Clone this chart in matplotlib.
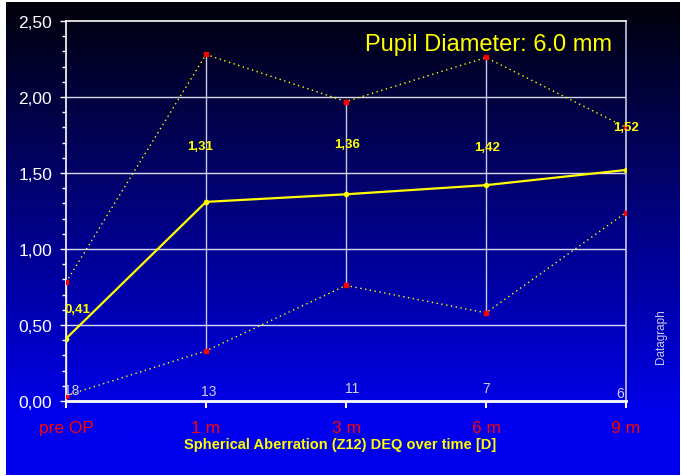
import numpy as np
import matplotlib
matplotlib.use("Agg")
import matplotlib.pyplot as plt
from matplotlib.ticker import MultipleLocator, FuncFormatter

plt.rcParams["font.family"] = ["Liberation Sans", "DejaVu Sans"]

# data
labels = ["pre OP", "1 m", "3 m", "6 m", "9 m"]
mean = [0.41, 1.31, 1.36, 1.42, 1.52]
upper = [0.78, 2.28, 1.97, 2.26, 1.80]
lower = [0.035, 0.33, 0.76, 0.58, 1.24]
counts = [18, 13, 11, 7, 6]

# label placement (data y, pixel x-offset)
value_label_y = [0.605, 1.678, 1.69, 1.67, 1.80]
value_label_dx = [11, -6, 1, 1, 0]
count_label_y = [0.072, 0.066, 0.086, 0.086, 0.053]
count_label_dx = [6, 3, 6, 0, -6]

W, H = 682, 477
fig = plt.figure(figsize=(W / 100, H / 100), dpi=100)
fig.patch.set_facecolor("white")

# gradient background
bg = fig.add_axes([6 / W, 1 / H, 674 / W, 473 / H])
bg.set_axis_off()
t = np.clip(np.linspace(0, 1, 400) / 0.88, 0, 1)
grad = np.zeros((400, 1, 3))
grad[:, 0, 2] = (10 + (238 - 10) * t) / 255
grad[:, 0, 0] = 2 / 255 * (1 - t)
grad[:, 0, 1] = 2 / 255 * (1 - t)
bg.imshow(grad, aspect="auto", extent=[0, 1, 0, 1])

ax = fig.add_axes([66 / W, 75 / H, 560 / W, 380 / H])
ax.set_facecolor("none")
x = np.arange(len(labels))

ax.set_xlim(0, 4)
ax.set_ylim(0, 2.5)

for yy in [0.5, 1.0, 1.5, 2.0]:
    ax.axhline(yy, color="white", lw=1, alpha=0.85, zorder=1)

ax.vlines(x, lower, upper, color="#c8c8e8", lw=1, zorder=2)
ax.plot(x, upper, color="#ffff00", lw=1, ls=(0, (1, 2.5)), zorder=3)
ax.plot(x, lower, color="#ffff00", lw=1, ls=(0, (1, 2.5)), zorder=3)
ax.plot(x, upper, ls="none", marker="s", ms=3, color="#ff0000", zorder=4)
ax.plot(x, lower, ls="none", marker="s", ms=3, color="#ff0000", zorder=4)
ax.plot(x, mean, color="#ffff00", lw=1.6, marker="o", ms=3, zorder=5)

for i, v in enumerate(mean):
    ax.annotate(f"{v:.2f}".replace(".", ","), (x[i], value_label_y[i]),
                xytext=(value_label_dx[i], 0), textcoords="offset pixels",
                ha="center", va="center", color="#ffff00", fontsize=9.5,
                fontweight="bold", zorder=6)

for i, n in enumerate(counts):
    ax.annotate(str(n), (x[i], count_label_y[i]),
                xytext=(count_label_dx[i], 0), textcoords="offset pixels",
                ha="center", va="center", color="#d0d0e8", fontsize=10, zorder=6)

ax.text(0.975, 0.94, "Pupil Diameter: 6.0 mm", transform=ax.transAxes,
        ha="right", va="center", color="#ffff00", fontsize=17)

for side in ["left", "top"]:
    ax.spines[side].set_color("white")
    ax.spines[side].set_linewidth(1.2)
ax.spines["right"].set_color("#c8c8e8")
ax.spines["right"].set_linewidth(1.2)
ax.spines["bottom"].set_color("white")
ax.spines["bottom"].set_linewidth(2)

ax.set_xticks(x, labels)
ax.tick_params(axis="x", colors="white", length=5, width=1.5, pad=9,
               labelcolor="#ff0000", labelsize=12.5)
ax.yaxis.set_major_locator(MultipleLocator(0.5))
ax.yaxis.set_minor_locator(MultipleLocator(0.1))
ax.yaxis.set_major_formatter(FuncFormatter(lambda v, p: f"{v:.2f}".replace(".", ",")))
ax.tick_params(axis="y", which="major", colors="white", length=4, width=1,
               pad=6, labelsize=12.5)
ax.tick_params(axis="y", which="minor", colors="white", length=3, width=1)

fig.text(340 / W, 1 - 445 / H, "Spherical Aberration (Z12) DEQ over time [D]",
         ha="center", va="center", color="#ffff00", fontsize=10.5, fontweight="bold")
fig.text(661 / W, 1 - 337 / H, "Datagraph", rotation=90, ha="center", va="center",
         color="#c8c8e8", fontsize=8.5)

fig.savefig("out.png", dpi=100)
